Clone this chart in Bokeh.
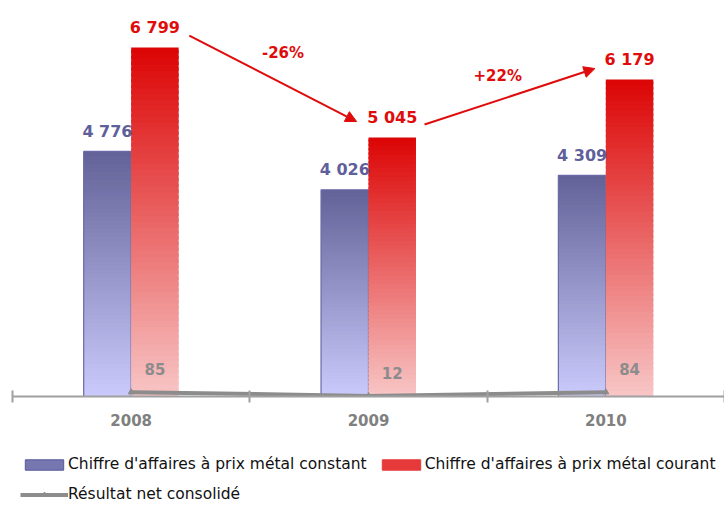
from bokeh.plotting import figure
from bokeh.models import (ColumnDataSource, Range1d, FixedTicker, Arrow, NormalHead,
                          Legend, LegendItem)
from bokeh.layouts import column
from bokeh.embed import file_html
from bokeh.resources import INLINE
from bokeh.core.properties import value

# ---------------- data ----------------
years = ["2008", "2009", "2010"]
ca_constant = [4776, 4026, 4309]
ca_courant = [6799, 5045, 6179]
resultat_net = [85, 12, 84]
legend_labels = ["Chiffre d'affaires à prix métal constant",
                 "Chiffre d'affaires à prix métal courant",
                 "Résultat net consolidé"]

# ---------------- style ----------------
FONT = "DejaVu Sans"
BLUE_TOP, BLUE_BOTTOM = (98, 98, 152), (202, 202, 252)
RED_TOP, RED_BOTTOM = (220, 4, 4), (248, 198, 198)
BLUE_TXT, RED_TXT, GREY = "#5f5f9b", "#e00c0c", "#8c8c8c"
N = 60
BAR_W = 0.2


def fmt(v):
    return f"{v:,}".replace(",", " ")


def gradient_source(values, offset, top_rgb, bottom_rgb):
    d = dict(left=[], right=[], bottom=[], top=[], color=[])
    for i, v in enumerate(values):
        for k in range(N):
            t = (k + 0.5) / N
            rgb = tuple(round(b + (tp - b) * t) for tp, b in zip(top_rgb, bottom_rgb))
            d["left"].append(i + offset)
            d["right"].append(i + offset + BAR_W)
            d["bottom"].append(v * k / N)
            d["top"].append(min(v, v * (k + 1.6) / N))
            d["color"].append("#%02x%02x%02x" % rgb)
    return ColumnDataSource(d)


xs = list(range(len(years)))

p = figure(width=724, height=442, x_range=Range1d(-0.5, 2.5), y_range=Range1d(0, 7560),
           output_backend="svg", toolbar_location=None, y_axis_location=None,
           min_border_left=12, min_border_right=0, min_border_top=8, min_border_bottom=46)
p.outline_line_color = None
p.grid.visible = False
p.background_fill_color = "white"

# bars with vertical gradient
p.quad(left="left", right="right", bottom="bottom", top="top", fill_color="color",
       line_color=None, source=gradient_source(ca_constant, -BAR_W, BLUE_TOP, BLUE_BOTTOM))
p.quad(left=[x - BAR_W for x in xs], right=xs, bottom=0, top=ca_constant,
       fill_color=None, line_color="#6a6aa6", line_width=1.2)
p.quad(left="left", right="right", bottom="bottom", top="top", fill_color="color",
       line_color=None, source=gradient_source(ca_courant, 0, RED_TOP, RED_BOTTOM))

# bar labels
p.text(x=[x - BAR_W / 2 for x in xs], y=ca_constant, text=[fmt(v) for v in ca_constant],
       text_align="center", text_baseline="middle", y_offset=-20,
       text_font=value(FONT), text_font_style="bold", text_font_size="16px", text_color=BLUE_TXT)
p.text(x=[x + BAR_W / 2 for x in xs], y=ca_courant, text=[fmt(v) for v in ca_courant],
       text_align="center", text_baseline="middle", y_offset=-20,
       text_font=value(FONT), text_font_style="bold", text_font_size="16px", text_color=RED_TXT)

# résultat net line
p.line(x=xs, y=resultat_net, line_color=GREY, line_width=4)
p.scatter(x=xs, y=resultat_net, marker="triangle", size=6, color=GREY)
p.text(x=[x + BAR_W / 2 for x in xs], y=resultat_net, text=[str(v) for v in resultat_net],
       text_align="center", text_baseline="middle", y_offset=-23,
       text_font=value(FONT), text_font_style="bold", text_font_size="15px", text_color=GREY)

# variation arrows between the "courant" values
arrows = [
    (0 + 0.245, ca_courant[0] + 233, 1 - 0.05, ca_courant[1] + 312, 10, -26),
    (1 + 0.236, ca_courant[1] + 254, 2 - 0.046, ca_courant[2] + 211, -12, -21),
]
pct_x, pct_y, pct_txt, pct_dx, pct_dy = [], [], [], [], []
for i, (x0, y0, x1, y1, dx, dy) in enumerate(arrows):
    p.add_layout(Arrow(x_start=x0, y_start=y0, x_end=x1, y_end=y1,
                       line_color=RED_TXT, line_width=2,
                       end=NormalHead(size=11, fill_color=RED_TXT, line_color=RED_TXT)))
    pct = round((ca_courant[i + 1] / ca_courant[i] - 1) * 100)
    pct_x.append((x0 + x1) / 2)
    pct_y.append((y0 + y1) / 2)
    pct_txt.append(f"{pct:+d}%")
    pct_dx.append(dx)
    pct_dy.append(dy)
p.text(x=pct_x, y=pct_y, text=pct_txt, x_offset=pct_dx, y_offset=pct_dy,
       text_align="center", text_baseline="middle",
       text_font=value(FONT), text_font_style="bold", text_font_size="15px", text_color=RED_TXT)

# x axis
ax = p.xaxis[0]
ax.ticker = FixedTicker(ticks=xs, minor_ticks=[x - 0.5 for x in xs] + [xs[-1] + 0.5])
ax.major_label_overrides = {x: y for x, y in zip(xs, years)}
ax.major_tick_line_color = None
ax.major_tick_in = 0
ax.major_tick_out = 0
ax.minor_tick_line_color = "#a0a0a0"
ax.minor_tick_line_width = 2
ax.minor_tick_in = 6
ax.minor_tick_out = 6
ax.axis_line_color = "#a0a0a0"
ax.axis_line_width = 2
ax.major_label_standoff = 11
ax.major_label_text_font = FONT
ax.major_label_text_font_style = "bold"
ax.major_label_text_font_size = "15px"
ax.major_label_text_color = "#808080"

# ---------------- legend panel ----------------
p2 = figure(width=724, height=63, x_range=Range1d(0, 1), y_range=Range1d(0, 1),
            output_backend="svg", toolbar_location=None,
            x_axis_location=None, y_axis_location=None, min_border=0)
p2.outline_line_color = None
p2.grid.visible = False
r_blue = p2.quad(left=[x - BAR_W for x in xs], right=xs, bottom=0, top=ca_constant,
                 fill_color="#7676b0", line_color="#58589a", visible=False)
r_red = p2.quad(left=xs, right=[x + BAR_W for x in xs], bottom=0, top=ca_courant,
                fill_color="#e63a3a", line_color="#e63a3a", visible=False)
r_line = p2.line(x=xs, y=resultat_net, line_color=GREY, line_width=4, visible=False)
r_mark = p2.scatter(x=xs, y=resultat_net, marker="triangle", size=7, color=GREY, visible=False)
legend = Legend(items=[LegendItem(label=legend_labels[0], renderers=[r_blue]),
                       LegendItem(label=legend_labels[1], renderers=[r_red]),
                       LegendItem(label=legend_labels[2], renderers=[r_line, r_mark])],
                location=(8, 1), orientation="horizontal", ncols=2,
                glyph_width=48, glyph_height=13, label_height=20, label_standoff=0,
                spacing=10, padding=0, margin=0, border_line_color=None,
                background_fill_alpha=0, inactive_fill_alpha=0, label_text_font=FONT,
                label_text_font_size="15.5px", label_text_color="#111111")
p2.add_layout(legend)

layout = column(p, p2)
open("out.html", "w").write(file_html(layout, INLINE))
